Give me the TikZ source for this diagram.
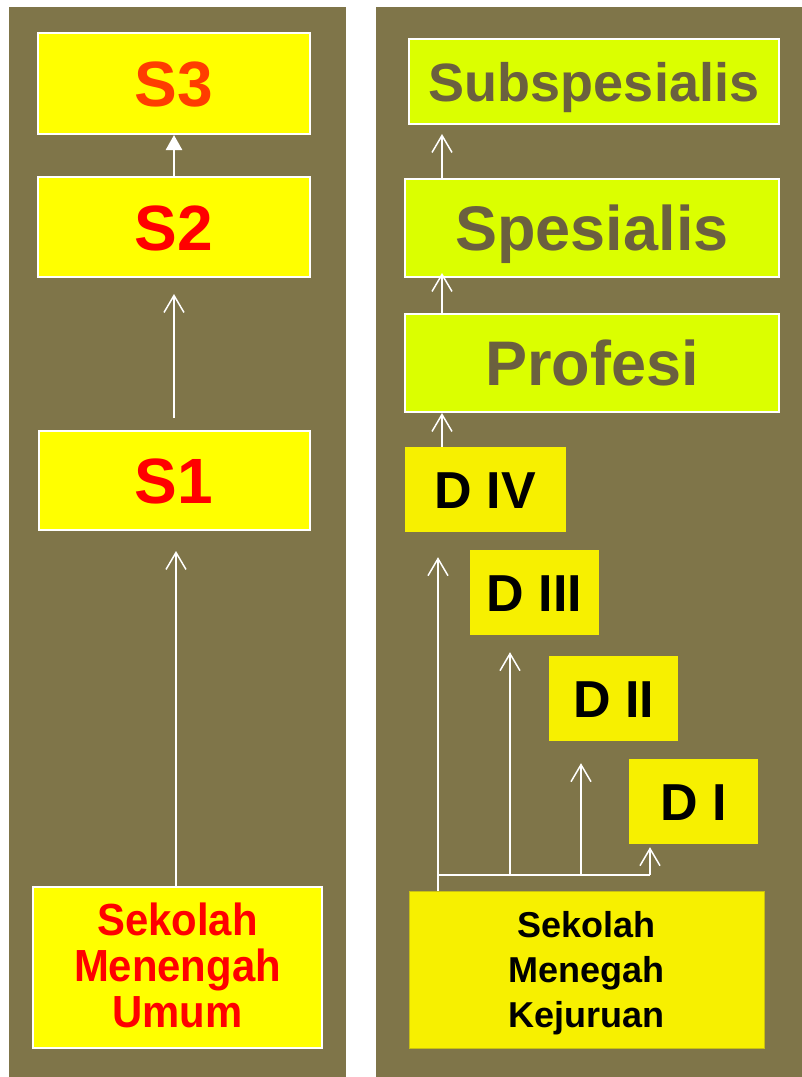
\documentclass[tikz,border=0pt]{standalone}
\usepackage{fontspec}
\setmainfont{Liberation Sans}
\newfontfamily\narrowsans[FakeStretch=0.93]{Liberation Sans}
\usetikzlibrary{arrows.meta}
\definecolor{panel}{RGB}{127,117,73}
\definecolor{yel}{RGB}{255,255,0}
\definecolor{dyel}{RGB}{247,240,0}
\definecolor{grn}{RGB}{219,255,0}
\definecolor{gtxt}{RGB}{107,96,63}
\definecolor{sred}{RGB}{255,0,0}
\definecolor{sorange}{RGB}{255,60,0}
\definecolor{dyelborder}{RGB}{200,192,20}
\newcommand\myfs[1]{\fontsize{#1}{#1}\selectfont}
\begin{document}
\begin{tikzpicture}[x=1pt,y=-1pt,
  box/.style={inner sep=0pt},
  ybox/.style={box, fill=yel, draw=white, line width=2pt},
  gbox/.style={box, fill=grn, draw=white, line width=2pt, text=gtxt},
  dbox/.style={box, fill=dyel, text=black},
  wline/.style={draw=white, line width=1.5pt},
  arr/.style={wline, -{Straight Barb[length=17pt,width=20pt]}},
  tri/.style={draw=white, line width=2.5pt, -{Triangle[length=15pt,width=16pt]}}]
\useasboundingbox (0,0) rectangle (802,1077);
\fill[white] (0,0) rectangle (802,1077);
\fill[panel] (9,7) rectangle (346,1077);
\fill[panel] (376,7) rectangle (802,1077);

% left column
\node[ybox, minimum width=272pt, minimum height=101pt, text=sorange,
  font=\bfseries\myfs{64}, text height=46pt, text depth=0pt] (S3) at (174,83.5) {S3};
\node[ybox, minimum width=272pt, minimum height=100pt, text=sred,
  font=\bfseries\myfs{64}, text height=46pt, text depth=0pt] (S2) at (174,227) {S2};
\node[ybox, minimum width=271pt, minimum height=99pt, text=sred,
  font=\bfseries\myfs{64}, text height=46pt, text depth=0pt] (S1) at (174,480.5) {S1};
\node[ybox, minimum width=289pt, minimum height=161pt, text=sred, align=center,
  font=\narrowsans\bfseries\fontsize{45}{46}\selectfont,
  text height=125pt, text depth=6pt] (SMU) at (177.5,967.5) {Sekolah\\Menengah\\Umum};

\coordinate (xl) at (174,0);
\coordinate (xm) at (176,0);
\draw[tri] (S2.north -| xl) -- (S3.south -| xl);
\draw[arr, shorten <=12pt, shorten >=16pt] (S1.north -| xl) -- (S2.south -| xl);
\draw[arr, shorten >=20pt] (SMU.north -| xm) -- (S1.south -| xm);

% right column
\node[gbox, minimum width=370pt, minimum height=85pt,
  font=\bfseries\myfs{54}, text height=39pt, text depth=0pt] (Sub) at (594,81.5) {Subspesialis};
\node[gbox, minimum width=374pt, minimum height=98pt,
  font=\bfseries\myfs{63}, text height=45pt, text depth=0pt] (Spes) at (592,228) {Spesialis};
\node[gbox, minimum width=374pt, minimum height=98pt,
  font=\bfseries\myfs{63}, text height=45pt, text depth=0pt] (Prof) at (592,363) {Profesi};

\node[dbox, minimum width=161pt, minimum height=85pt,
  font=\bfseries\myfs{52}, text height=37pt, text depth=0pt] (DIV) at (485.5,489.5) {D IV};
\node[dbox, minimum width=129pt, minimum height=85pt,
  font=\bfseries\myfs{52}, text height=37pt, text depth=0pt] (DIII) at (534.5,592.5) {D III};
\node[dbox, minimum width=129pt, minimum height=85pt,
  font=\bfseries\myfs{52}, text height=37pt, text depth=0pt] (DII) at (613.5,698.5) {D II};
\node[dbox, minimum width=129pt, minimum height=85pt,
  font=\bfseries\myfs{52}, text height=37pt, text depth=0pt] (DI) at (693.5,801.5) {D I};

\node[dbox, draw=dyelborder, line width=0.8pt, minimum width=355pt, minimum height=157pt, align=center,
  font=\bfseries\fontsize{36}{45}\selectfont,
  text height=116pt, text depth=1pt] (SMK) at (586.5,969.5) {Sekolah\\Menegah\\Kejuruan};

\coordinate (xa) at (442,0);
\draw[arr] (DIV.north -| xa) -- (Prof.south -| xa);
\draw[arr, shorten >=-5pt] (Prof.north -| xa) -- (Spes.south -| xa);
\draw[arr, shorten >=9pt] (Spes.north -| xa) -- (Sub.south -| xa);

\coordinate (xb) at (438,0);
\coordinate (xc) at (510,0);
\coordinate (xd) at (581,0);
\coordinate (xe) at (650,0);
\coordinate (hy) at (0,875);
\draw[wline] (xb |- hy) -- (xe |- hy);
\draw[arr, shorten >=25pt] (SMK.north -| xb) -- (DIV.south -| xb);
\draw[arr, shorten >=17pt] (xc |- hy) -- (DIII.south -| xc);
\draw[arr, shorten >=22pt] (xd |- hy) -- (DII.south -| xd);
\draw[arr, shorten >=3pt] (xe |- hy) -- (DI.south -| xe);
\end{tikzpicture}
\end{document}
